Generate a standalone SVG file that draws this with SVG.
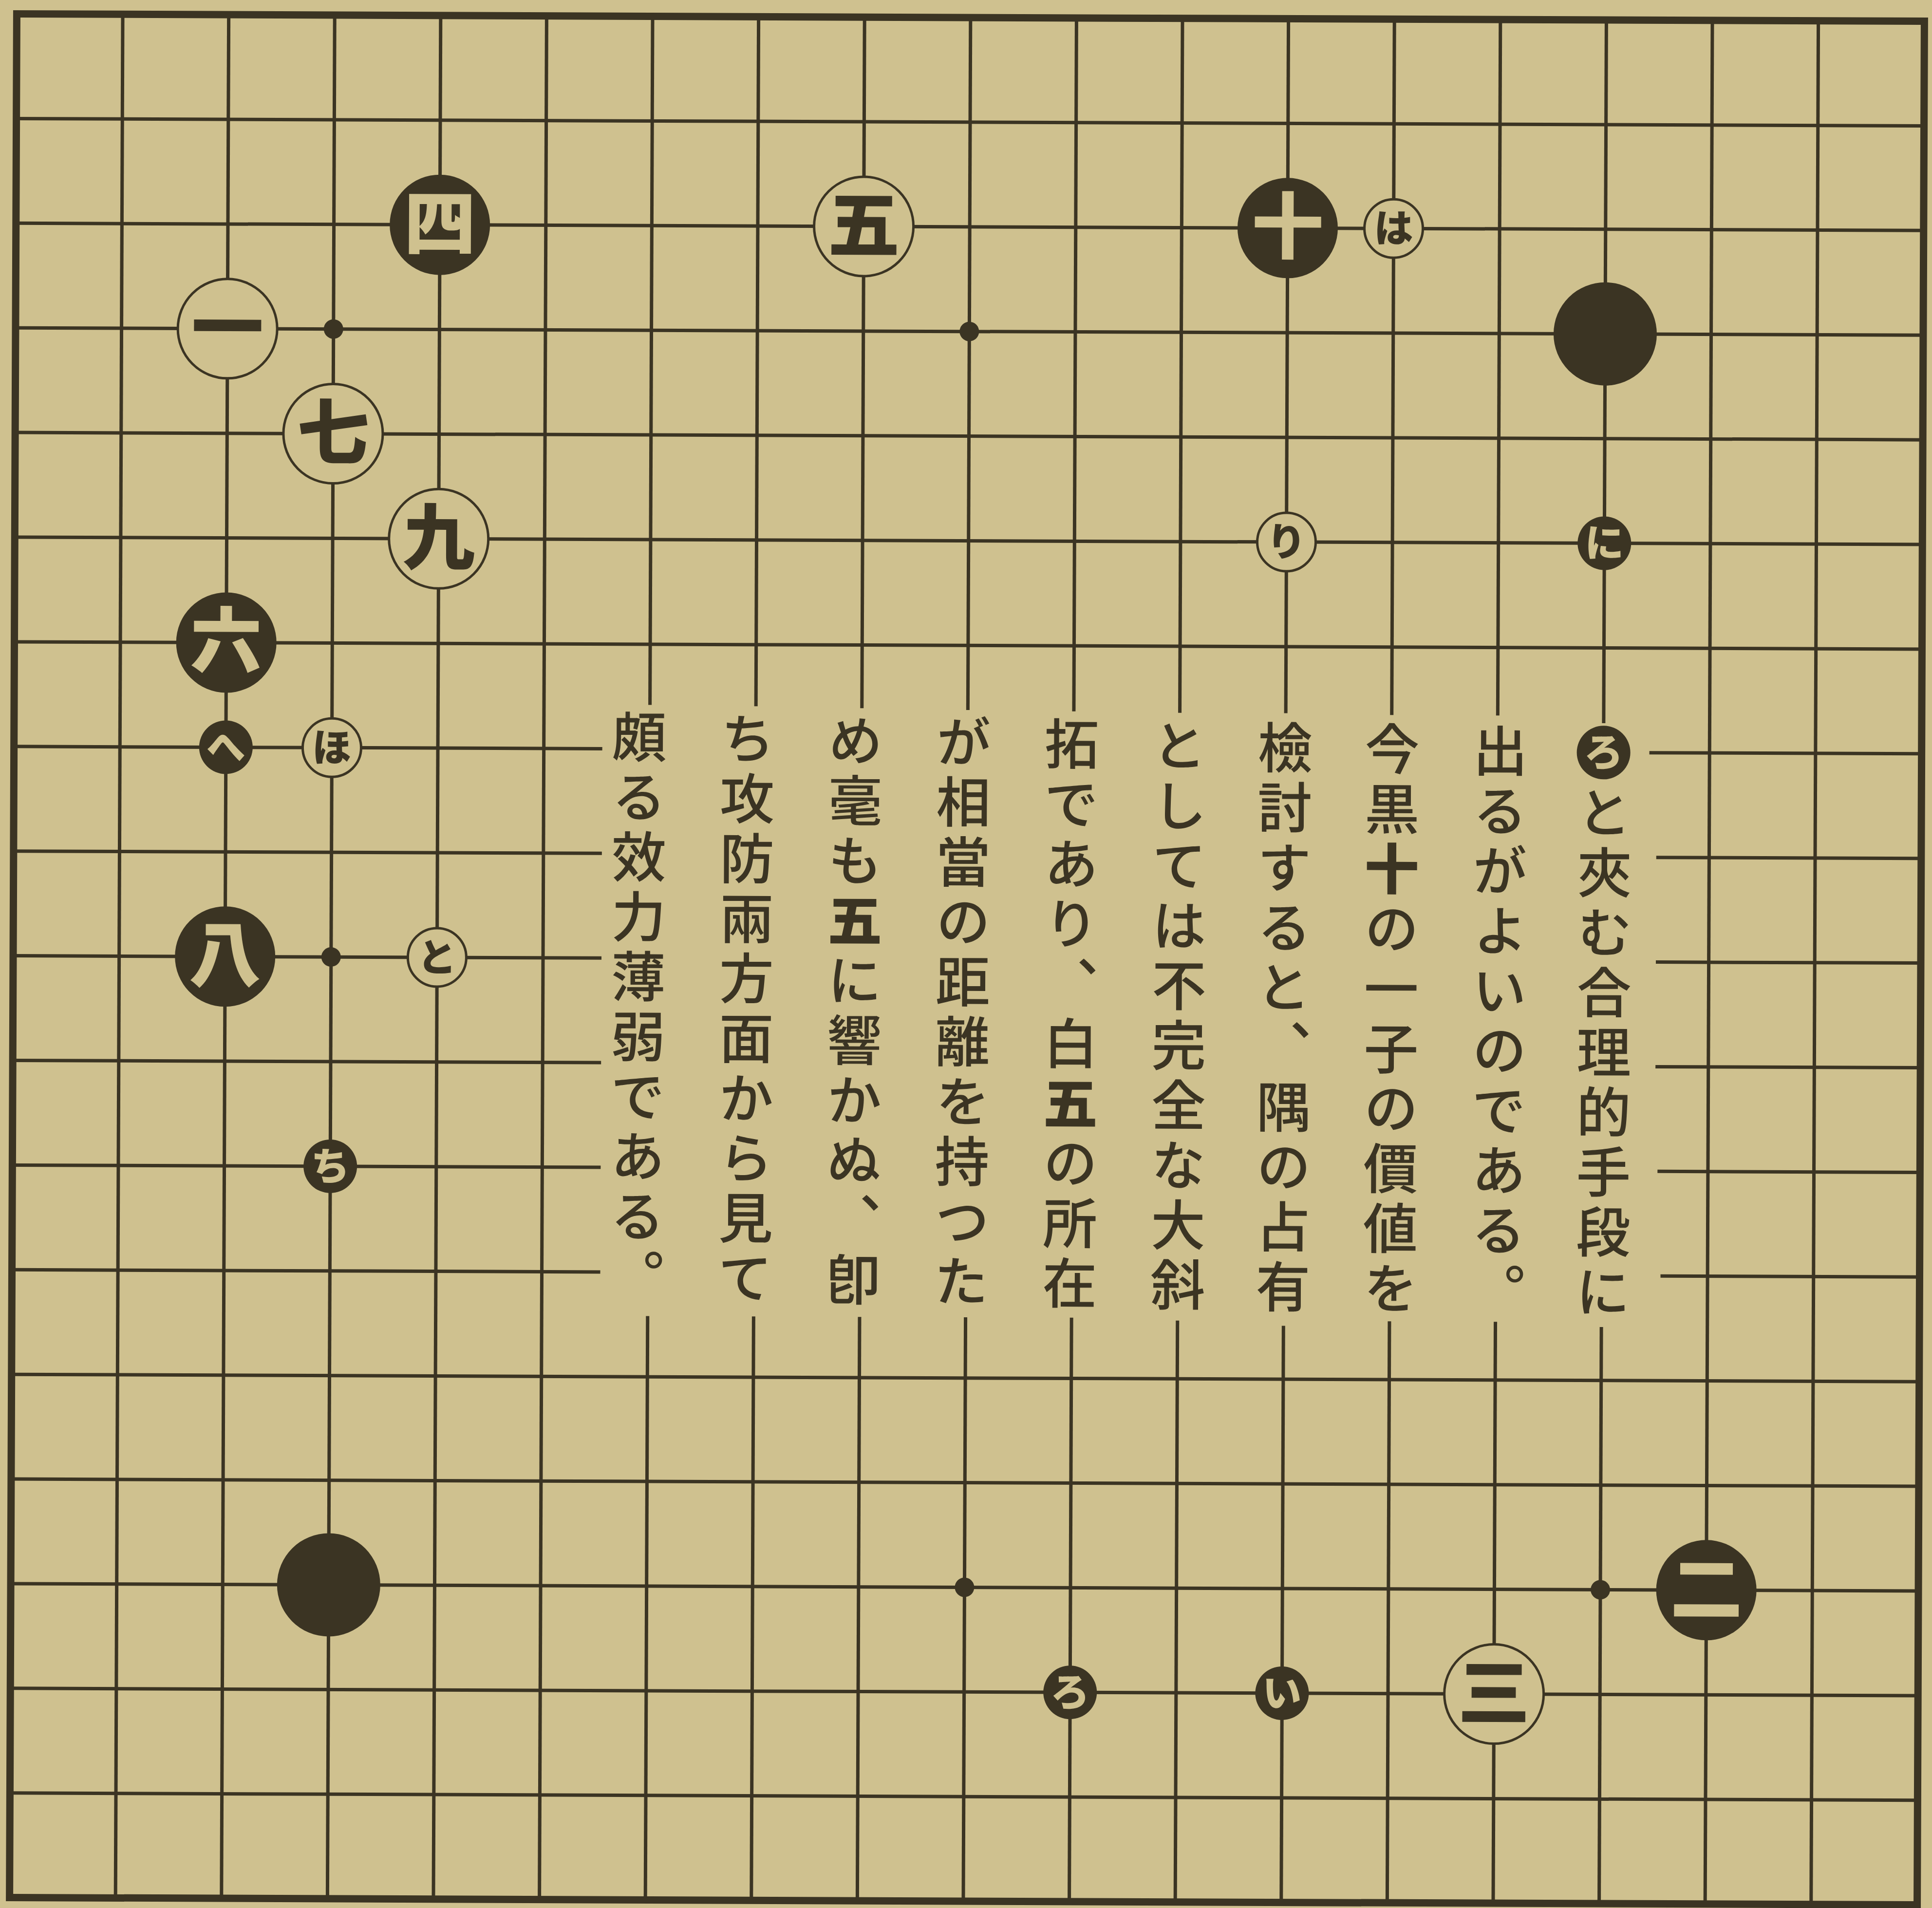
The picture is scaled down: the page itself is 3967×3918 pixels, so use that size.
<svg xmlns="http://www.w3.org/2000/svg" width="3967" height="3918" viewBox="0 0 3967 3918">
<style>
.g line{stroke:#3b3423;stroke-width:7}
.frame{fill:none;stroke:#3b3423;stroke-width:15}
.b{fill:#3b3423}
.w{fill:#cfc18f;stroke:#3b3423;stroke-width:5}
.lb{font-family:"Noto Sans CJK JP",sans-serif;font-weight:900;text-anchor:middle;dominant-baseline:central}
.big{font-size:148px}
.sm{font-size:80px}
.onb{fill:#cfc18f}
.onw{fill:#3b3423}
.col{font-family:"Noto Sans CJK JP",sans-serif;font-size:112px;font-weight:500;fill:#3b3423;writing-mode:vertical-rl}
.bd{font-weight:900}
</style>
<rect width="3967" height="3918" fill="#cfc18f"/>
<g transform="rotate(0.22 1985 1970)">
<g id="grid" class="g">
<rect class="frame" x="27" y="36" width="3917" height="3868"/>
<line x1="244.6" y1="36" x2="244.6" y2="3904"/>
<line x1="462.2" y1="36" x2="462.2" y2="3904"/>
<line x1="679.8" y1="36" x2="679.8" y2="3904"/>
<line x1="897.4" y1="36" x2="897.4" y2="3904"/>
<line x1="1115" y1="36" x2="1115" y2="3904"/>
<line x1="1332.6" y1="36" x2="1332.6" y2="1450"/><line x1="1332.6" y1="2705" x2="1332.6" y2="3904"/>
<line x1="1550.2" y1="36" x2="1550.2" y2="1452"/><line x1="1550.2" y1="2705" x2="1550.2" y2="3904"/>
<line x1="1767.8" y1="36" x2="1767.8" y2="1455"/><line x1="1767.8" y1="2705" x2="1767.8" y2="3904"/>
<line x1="1985.4" y1="36" x2="1985.4" y2="1458"/><line x1="1985.4" y1="2705" x2="1985.4" y2="3904"/>
<line x1="2203" y1="36" x2="2203" y2="1460"/><line x1="2203" y1="2705" x2="2203" y2="3904"/>
<line x1="2420.6" y1="36" x2="2420.6" y2="1462"/><line x1="2420.6" y1="2710" x2="2420.6" y2="3904"/>
<line x1="2638.2" y1="36" x2="2638.2" y2="1462"/><line x1="2638.2" y1="2720" x2="2638.2" y2="3904"/>
<line x1="2855.8" y1="36" x2="2855.8" y2="1465"/><line x1="2855.8" y1="2710" x2="2855.8" y2="3904"/>
<line x1="3073.4" y1="36" x2="3073.4" y2="1465"/><line x1="3073.4" y1="2710" x2="3073.4" y2="3904"/>
<line x1="3291" y1="36" x2="3291" y2="1480"/><line x1="3291" y1="2720" x2="3291" y2="3904"/>
<line x1="3508.6" y1="36" x2="3508.6" y2="3904"/>
<line x1="3726.2" y1="36" x2="3726.2" y2="3904"/>
<line x1="27" y1="250.9" x2="3944" y2="250.9"/>
<line x1="27" y1="465.8" x2="3944" y2="465.8"/>
<line x1="27" y1="680.7" x2="3944" y2="680.7"/>
<line x1="27" y1="895.6" x2="3944" y2="895.6"/>
<line x1="27" y1="1110.5" x2="3944" y2="1110.5"/>
<line x1="27" y1="1325.4" x2="3944" y2="1325.4"/>
<line x1="27" y1="1540.3" x2="1235" y2="1540.3"/><line x1="3385" y1="1540.3" x2="3944" y2="1540.3"/>
<line x1="27" y1="1755.2" x2="1235" y2="1755.2"/><line x1="3400" y1="1755.2" x2="3944" y2="1755.2"/>
<line x1="27" y1="1970.1" x2="1235" y2="1970.1"/><line x1="3400" y1="1970.1" x2="3944" y2="1970.1"/>
<line x1="27" y1="2185" x2="1235" y2="2185"/><line x1="3400" y1="2185" x2="3944" y2="2185"/>
<line x1="27" y1="2399.9" x2="1235" y2="2399.9"/><line x1="3405" y1="2399.9" x2="3944" y2="2399.9"/>
<line x1="27" y1="2614.8" x2="1235" y2="2614.8"/><line x1="3412" y1="2614.8" x2="3944" y2="2614.8"/>
<line x1="27" y1="2829.7" x2="3944" y2="2829.7"/>
<line x1="27" y1="3044.6" x2="3944" y2="3044.6"/>
<line x1="27" y1="3259.5" x2="3944" y2="3259.5"/>
<line x1="27" y1="3474.4" x2="3944" y2="3474.4"/>
<line x1="27" y1="3689.3" x2="3944" y2="3689.3"/>
</g>
<g id="stars" class="b">
<circle cx="679.8" cy="680.7" r="20"/>
<circle cx="1985.4" cy="680.7" r="20"/>
<circle cx="679.8" cy="1970.1" r="20"/>
<circle cx="1985.4" cy="3259.5" r="20"/>
<circle cx="3291" cy="3259.5" r="20"/>
</g>
<g id="s4"><circle class="b" cx="897.4" cy="465.8" r="103"/><text class="lb big onb" x="897.4" y="452">四</text></g>
<g id="s5"><circle class="w" cx="1767.8" cy="465.8" r="102"/><text class="lb big onw" x="1767.8" y="452">五</text></g>
<g id="s10"><circle class="b" cx="2638.2" cy="465.8" r="103"/><text class="lb big onb" x="2638.2" y="452">十</text></g>
<g id="sha"><circle class="w" cx="2855.8" cy="465.8" r="60"/><text class="lb sm onw" x="2855.8" y="459">は</text></g>
<g id="sb1"><circle class="b" cx="3291" cy="680.7" r="106"/></g>
<g id="s1"><circle class="w" cx="462.2" cy="680.7" r="102"/><text class="lb big onw" x="462.2" y="667">一</text></g>
<g id="s7"><circle class="w" cx="679.8" cy="895.6" r="102"/><text class="lb big onw" x="679.8" y="882">七</text></g>
<g id="s9"><circle class="w" cx="897.4" cy="1110.5" r="102"/><text class="lb big onw" x="897.4" y="1097">九</text></g>
<g id="sri"><circle class="w" cx="2638.2" cy="1110.5" r="60"/><text class="lb sm onw" x="2638.2" y="1104">り</text></g>
<g id="sni"><circle class="b" cx="3291" cy="1110.5" r="55"/><text class="lb sm onb" x="3291" y="1104">に</text></g>
<g id="s6"><circle class="b" cx="462.2" cy="1325.4" r="103"/><text class="lb big onb" x="462.2" y="1312">六</text></g>
<g id="she"><circle class="b" cx="462.2" cy="1540.3" r="55"/><text class="lb sm onb" x="462.2" y="1534">へ</text></g>
<g id="sho"><circle class="w" cx="679.8" cy="1540.3" r="60"/><text class="lb sm onw" x="679.8" y="1534">ほ</text></g>
<g id="sro1"><circle class="b" cx="3291" cy="1540.3" r="55"/><text class="lb sm onb" x="3291" y="1534">ろ</text></g>
<g id="s8"><circle class="b" cx="462.2" cy="1970.1" r="103"/><text class="lb big onb" x="462.2" y="1956">八</text></g>
<g id="sto"><circle class="w" cx="897.4" cy="1970.1" r="60"/><text class="lb sm onw" x="897.4" y="1964">と</text></g>
<g id="schi"><circle class="b" cx="679.8" cy="2399.9" r="55"/><text class="lb sm onb" x="679.8" y="2394">ち</text></g>
<g id="sb2"><circle class="b" cx="679.8" cy="3259.5" r="106"/></g>
<g id="s2"><circle class="b" cx="3508.6" cy="3259.5" r="103"/><text class="lb big onb" x="3508.6" y="3246">二</text></g>
<g id="sro2"><circle class="b" cx="2203" cy="3474.4" r="55"/><text class="lb sm onb" x="2203" y="3468">ろ</text></g>
<g id="si"><circle class="b" cx="2638.2" cy="3474.4" r="55"/><text class="lb sm onb" x="2638.2" y="3468">い</text></g>
<g id="s3"><circle class="w" cx="3073.4" cy="3474.4" r="102"/><text class="lb big onw" x="3073.4" y="3461">三</text></g>
<g id="text">
<text class="col" x="1311" y="1459 1582 1705 1828 1951 2074 2197 2320 2443 2566">頗る效力薄弱である。</text>
<text class="col" x="1533" y="1462 1585 1708 1831 1954 2077 2200 2323 2446 2569">ち攻防兩方面から見て</text>
<text class="col" x="1755" y="1465 1588 1711 1834 1957 2080 2203 2326 2449 2572">め毫も<tspan class="bd">五</tspan>に響かぬ、卽</text>
<text class="col" x="1977" y="1467 1590 1713 1836 1959 2082 2205 2328 2451 2574">が相當の距離を持つた</text>
<text class="col" x="2199" y="1470 1593 1716 1839 1962 2085 2208 2331 2454 2577">拓であり、白<tspan class="bd">五</tspan>の所在</text>
<text class="col" x="2421" y="1473 1596 1719 1842 1965 2088 2211 2334 2457 2580">としては不完全な大斜</text>
<text class="col" x="2637" y="1476 1599 1722 1845 1968 2091 2214 2337 2460 2583">檢討すると、隅の占有</text>
<text class="col" x="2857" y="1478 1601 1724 1847 1970 2093 2216 2339 2462 2585">今黒<tspan class="bd">十</tspan>の一子の價値を</text>
<text class="col" x="3079" y="1481 1604 1727 1850 1973 2096 2219 2342 2465 2588">出るがよいのである。</text>
<text class="col" x="3294" y="1607 1730 1853 1976 2099 2222 2345 2468 2591">と夾む合理的手段に</text>
</g>
</g>
</svg>
